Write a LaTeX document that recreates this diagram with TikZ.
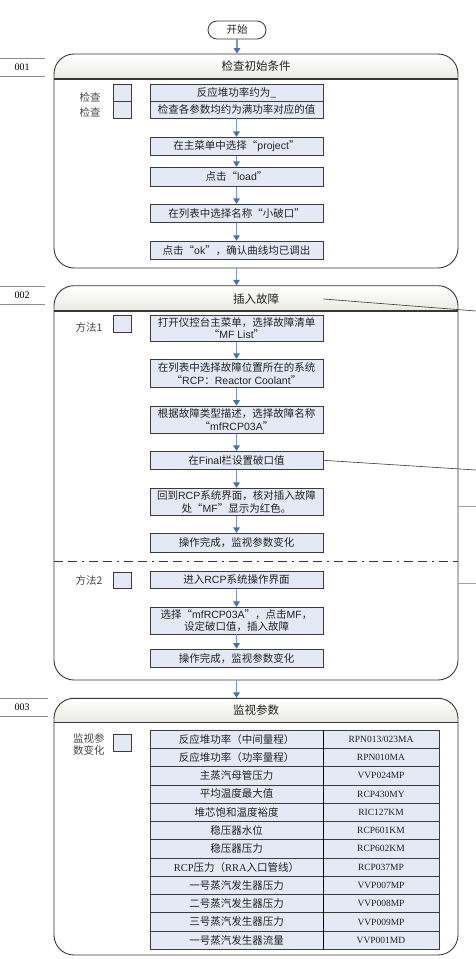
\documentclass[tikz,border=0pt]{standalone}
\usepackage{fontspec}
\setmainfont{Noto Sans CJK SC}
\newfontfamily\lat{Liberation Sans}
\newfontfamily\codef{Liberation Serif}
\usetikzlibrary{arrows.meta,calc}
\definecolor{boxfill}{RGB}{228,233,245}
\definecolor{boxdraw}{RGB}{60,60,60}
\definecolor{arrowline}{RGB}{120,150,205}
\definecolor{arrowhead}{RGB}{70,110,185}
\definecolor{headfill}{RGB}{234,234,228}
\definecolor{secdraw}{RGB}{55,55,55}
\definecolor{txt}{RGB}{35,35,35}
\definecolor{lbl}{RGB}{70,70,70}
\definecolor{grayline}{RGB}{150,160,185}
\definecolor{numline}{RGB}{140,140,140}
\newcommand\secshape[3]{%
  \begin{scope}
  \clip[rounded corners=20] (54,#1) rectangle (458,#2);
  \shade[top color=white,bottom color=headfill] (54,#1) rectangle (458,#3);
  \end{scope}
  \draw[secdraw, line width=1.5pt] (54,#3) -- (458,#3);
}
\newcommand\tabrow[3]{%
  \node[cellA] (ra#1) at (236.5,{730+18.28*(#1-0.5)}) {#2};
  \node[cellB] (rb#1) at (381,{730+18.28*(#1-0.5)}) {#3};
}
\tikzset{
  procbox/.style={draw=boxdraw, line width=0.8pt, fill=boxfill, minimum width=173, minimum height=18,
    inner sep=1pt, align=center, font=\fontsize{10.5}{12.6}\selectfont, text=txt},
  chk/.style={draw=boxdraw, line width=0.8pt, fill=boxfill, minimum width=18, minimum height=17, inner sep=0pt},
  sidelbl/.style={font=\fontsize{10.5}{12.7}\selectfont, text=lbl, inner sep=0pt},
  sectitle/.style={font=\fontsize{11.5}{13}\selectfont, text=txt, inner sep=0pt},
  secnode/.style={draw=secdraw, line width=0.9pt, rounded corners=20, minimum width=404, inner sep=0pt},
  numlbl/.style={font=\codef\fontsize{10}{12}\selectfont, text=black, inner sep=0pt},
  numln/.style={draw=numline, line width=0.6pt},
  flow/.style={draw=arrowline, line width=1.3pt, -{Triangle[width=6.5pt,length=5.5pt,color=arrowhead]}},
  cellA/.style={draw=boxdraw, line width=0.7pt, fill=boxfill, minimum width=173, minimum height=18.28,
    inner sep=0pt, font=\fontsize{10.5}{12}\selectfont, text=txt},
  cellB/.style={draw=boxdraw, line width=0.7pt, fill=boxfill, minimum width=116, minimum height=18.28,
    inner sep=0pt, font=\codef\fontsize{9.5}{11}\selectfont, text=txt},
  leader/.style={draw=secdraw, line width=0.6pt},
  grayln/.style={draw=grayline, line width=0.8pt},
  dashdot/.style={draw=secdraw, line width=0.8pt, dash pattern=on 9pt off 5pt on 9pt off 5pt on 2pt off 5pt},
}
\begin{document}
\begin{tikzpicture}[x=1pt,y=-1pt]
\useasboundingbox (0,0) rectangle (476,959);

% start
\node[draw=secdraw, line width=0.8pt, fill=white, rounded corners=9, minimum width=58, minimum height=18,
  inner sep=0pt, font=\fontsize{10.5}{12}\selectfont, text=txt] (start) at (237,30) {开始};

% ---------- section 001 ----------
\secshape{54}{268}{79}
\node[secnode, minimum height=214] (s1) at (256,161) {};
\node[sectitle] (t1) at (256,66.5) {检查初始条件};
\node[numlbl] (n1) at (22,67) {001};
\draw[numln] (0,58) -- (45,58);
\draw[numln] (0,76) -- (45,76);

\node[sidelbl] (l1a) at (90,97.5) {检查};
\node[sidelbl] (l1b) at (90,112.5) {检查};
\node[chk] (k1a) at (122,92.5) {};
\node[chk] (k1b) at (122,109.5) {};
\node[procbox, minimum height=17] (c1a) at (236.5,92.5) {反应堆功率约为\_};
\node[procbox, minimum height=17] (c1b) at (236.5,109.5) {检查各参数均约为满功率对应的值};
\node[procbox] (b1) at (236.5,146.3) {在主菜单中选择“{\lat project}”};
\node[procbox, minimum height=19] (b2) at (236.5,176.8) {点击“{\lat load}”};
\node[procbox] (b3) at (236.5,213.3) {在列表中选择名称“小破口”};
\node[procbox] (b4) at (236.5,250.2) {点击“{\lat ok}”，确认曲线均已调出};
\draw[flow] (c1b) -- (b1);
\draw[flow] (b1) -- (b2);
\draw[flow] (b2) -- (b3);
\draw[flow] (b3) -- (b4);

% ---------- section 002 ----------
\secshape{285.7}{680}{311}
\node[secnode, minimum height=394.3] (s2) at (256,482.85) {};
\node[sectitle] (t2) at (256,299) {插入故障};
\node[numlbl] (n2) at (22,295.5) {002};
\draw[numln] (0,286) -- (45,286);
\draw[numln] (0,304.7) -- (45,304.7);

\node[sidelbl] (m1) at (89,327) {方法1};
\node[chk] (k2a) at (122,324.2) {};
\node[procbox, minimum height=26.7] (d1) at (236.5,328.3) {打开仪控台主菜单，选择故障清单\\“{\lat MF List}”};
\node[procbox, minimum height=28] (d2) at (236.5,373.3) {在列表中选择故障位置所在的系统\\“{\lat RCP}：{\lat Reactor Coolant}”};
\node[procbox, minimum height=27.3] (d3) at (236.5,419.7) {根据故障类型描述，选择故障名称\\“{\lat mfRCP03A}”};
\node[procbox] (d4) at (236.5,460.3) {在{\lat Final}栏设置破口值};
\node[procbox, minimum height=27.4] (d5) at (236.5,502) {回到{\lat RCP}系统界面，核对插入故障\\处“{\lat MF}”显示为红色。};
\node[procbox, minimum height=19] (d6) at (236.5,542.8) {操作完成，监视参数变化};
\draw[flow] (d1) -- (d2);
\draw[flow] (d2) -- (d3);
\draw[flow] (d3) -- (d4);
\draw[flow] (d4) -- (d5);
\draw[flow] (d5) -- (d6);

\draw[dashdot] (54,561.7) -- (458,561.7);

\node[sidelbl] (m2) at (89,580) {方法2};
\node[chk, minimum height=16] (k2b) at (122,580.5) {};
\node[procbox, minimum height=17.3] (e1) at (236.5,579.7) {进入{\lat RCP}系统操作界面};
\node[procbox, minimum height=26.7] (e2) at (236.5,620.7) {选择“{\lat mfRCP03A}”，点击{\lat MF}，\\设定破口值，插入故障};
\node[procbox, minimum height=18.3] (e3) at (236.5,658.2) {操作完成，监视参数变化};
\draw[flow] (e1) -- (e2);
\draw[flow] (e2) -- (e3);

% leader lines to the right
\coordinate (x2) at (476,311);
\coordinate (x4) at (476,470);
\draw[leader] (t2 -| d1.east) -- (x2);
\draw[leader] (d4.east) -- (x4);
\coordinate (g1a) at (458,506.5);
\coordinate (g1b) at (476,506.5);
\coordinate (g2a) at (458,583.3);
\coordinate (g2b) at (476,583.3);
\draw[grayln] (g1a) -- (g1b);
\draw[grayln] (g2a) -- (g2b);

% ---------- section 003 ----------
\secshape{698.3}{955}{722.3}
\node[secnode, minimum height=256.7] (s3) at (256,826.65) {};
\node[sectitle] (t3) at (256,710.5) {监视参数};
\node[numlbl] (n3) at (22,707.5) {003};
\draw[numln] (0,698.3) -- (48,698.3);
\draw[numln] (0,716.7) -- (48,716.7);

\node[sidelbl, anchor=north west, align=left] (m3) at (73,733) {监视参\\数变化};
\node[chk, minimum height=17.4] (k3) at (122,743) {};

\tabrow{1}{反应堆功率（中间量程）}{RPN013/023MA}
\tabrow{2}{反应堆功率（功率量程）}{RPN010MA}
\tabrow{3}{主蒸汽母管压力}{VVP024MP}
\tabrow{4}{平均温度最大值}{RCP430MY}
\tabrow{5}{堆芯饱和温度裕度}{RIC127KM}
\tabrow{6}{稳压器水位}{RCP601KM}
\tabrow{7}{稳压器压力}{RCP602KM}
\tabrow{8}{{\codef RCP}压力（{\codef RRA}入口管线）}{RCP037MP}
\tabrow{9}{一号蒸汽发生器压力}{VVP007MP}
\tabrow{10}{二号蒸汽发生器压力}{VVP008MP}
\tabrow{11}{三号蒸汽发生器压力}{VVP009MP}
\tabrow{12}{一号蒸汽发生器流量}{VVP001MD}
\draw[black, line width=1pt] (ra1.north east) -- (ra12.south east);

% section connectors
\draw[flow] (start) -- (start |- s1.north);
\draw[flow] (b4 |- s1.south) -- (b4 |- s2.north);
\draw[flow] (e3 |- s2.south) -- (e3 |- s3.north);
\end{tikzpicture}
\end{document}
